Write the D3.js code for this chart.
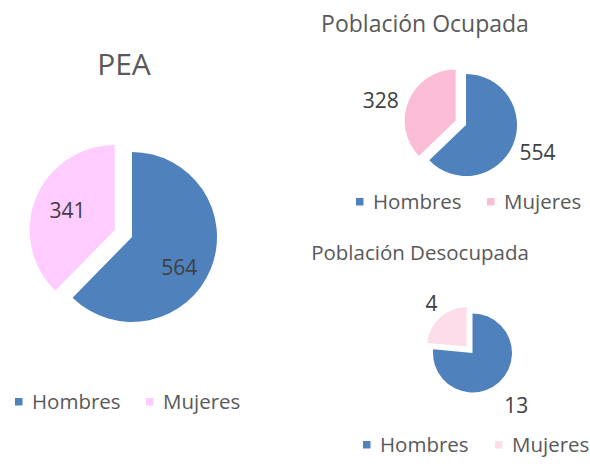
<!DOCTYPE html>
<html>
<head>
<meta charset="utf-8">
<script src="https://cdn.jsdelivr.net/npm/d3@7"></script>
<style>
  html, body { margin: 0; padding: 0; background: #fff; }
  svg { display: block; font-family: "Open Sans", "DejaVu Sans", sans-serif; }
</style>
</head>
<body>
<svg id="chart" width="590" height="464"></svg>
<script>
// Data
const categories = ["Hombres", "Mujeres"];
const peaValues = [564, 341];
const ocupadaValues = [554, 328];
const desocupadaValues = [13, 4];
const titles = ["PEA", "Población Ocupada", "Población Desocupada"];

const blue = "#4F81BD";

// Layout of each pie panel
const panels = [
  {
    title: titles[0], values: peaValues,
    colors: [blue, "#FFCCFF"],
    cx: 132, cy: 237, r: 85,
    titleX: 124, titleY: 75, titleSize: 30,
    labelK: [0.66, 0.60], labelRot: [0.18, 0],
    labelSize: 21,
    legendY: 402, legendX: [15, 146]
  },
  {
    title: titles[1], values: ocupadaValues,
    colors: [blue, "#FBBCD5"],
    cx: 466, cy: 125, r: 51,
    titleX: 425, titleY: 32, titleSize: 23,
    labelK: [1.5, 1.52], labelRot: [-0.04, -0.14],
    labelSize: 21,
    legendY: 202, legendX: [356, 487]
  },
  {
    title: titles[2], values: desocupadaValues,
    colors: [blue, "#FDDDE9"],
    cx: 472.5, cy: 353, r: 39.5,
    titleX: 420, titleY: 260, titleSize: 20.5,
    labelK: [1.72, 1.4], labelRot: [0.04, 0.05],
    labelSize: 21,
    legendY: 445, legendX: [363, 495]
  }
];

const svg = d3.select("#chart");
const explode = 0.22; // exploded slice offset, as a fraction of the radius

const pie = d3.pie().sort(null).value(d => d).startAngle(0).endAngle(2 * Math.PI);

panels.forEach(p => {
  const g = svg.append("g");
  const arcs = pie(p.values);
  const arc = d3.arc().innerRadius(0).outerRadius(p.r);

  // Title
  g.append("text")
    .attr("x", p.titleX).attr("y", p.titleY)
    .attr("text-anchor", "middle")
    .attr("fill", "#595959")
    .attr("font-size", p.titleSize)
    .text(p.title);

  // Slices: second slice (Mujeres) is pulled out along its mid-angle
  const offsets = arcs.map((a, i) => {
    const mid = (a.startAngle + a.endAngle) / 2;
    return i === 1 ? d3.pointRadial(mid, p.r * explode) : [0, 0];
  });

  g.selectAll("path.slice")
    .data(arcs)
    .join("path")
    .attr("class", "slice")
    .attr("d", arc)
    .attr("fill", (d, i) => p.colors[i])
    .attr("transform", (d, i) => `translate(${p.cx + offsets[i][0]},${p.cy + offsets[i][1]})`);

  // Value labels
  g.selectAll("text.val")
    .data(arcs)
    .join("text")
    .attr("class", "val")
    .attr("text-anchor", "middle")
    .attr("dy", "0.36em")
    .attr("fill", "#404040")
    .attr("font-size", p.labelSize)
    .attr("transform", (d, i) => {
      const mid = (d.startAngle + d.endAngle) / 2 + p.labelRot[i];
      const [x, y] = d3.pointRadial(mid, p.r * p.labelK[i]);
      return `translate(${p.cx + offsets[i][0] + x},${p.cy + offsets[i][1] + y})`;
    })
    .text(d => d.data);

  // Legend
  const lg = g.append("g");
  categories.forEach((c, i) => {
    lg.append("rect")
      .attr("x", p.legendX[i]).attr("y", p.legendY - 4)
      .attr("width", 7.5).attr("height", 7.5)
      .attr("fill", p.colors[i]);
    lg.append("text")
      .attr("x", p.legendX[i] + 17).attr("y", p.legendY)
      .attr("dy", "0.36em")
      .attr("fill", "#595959")
      .attr("font-size", 20.5)
      .text(c);
  });
});
</script>
</body>
</html>
